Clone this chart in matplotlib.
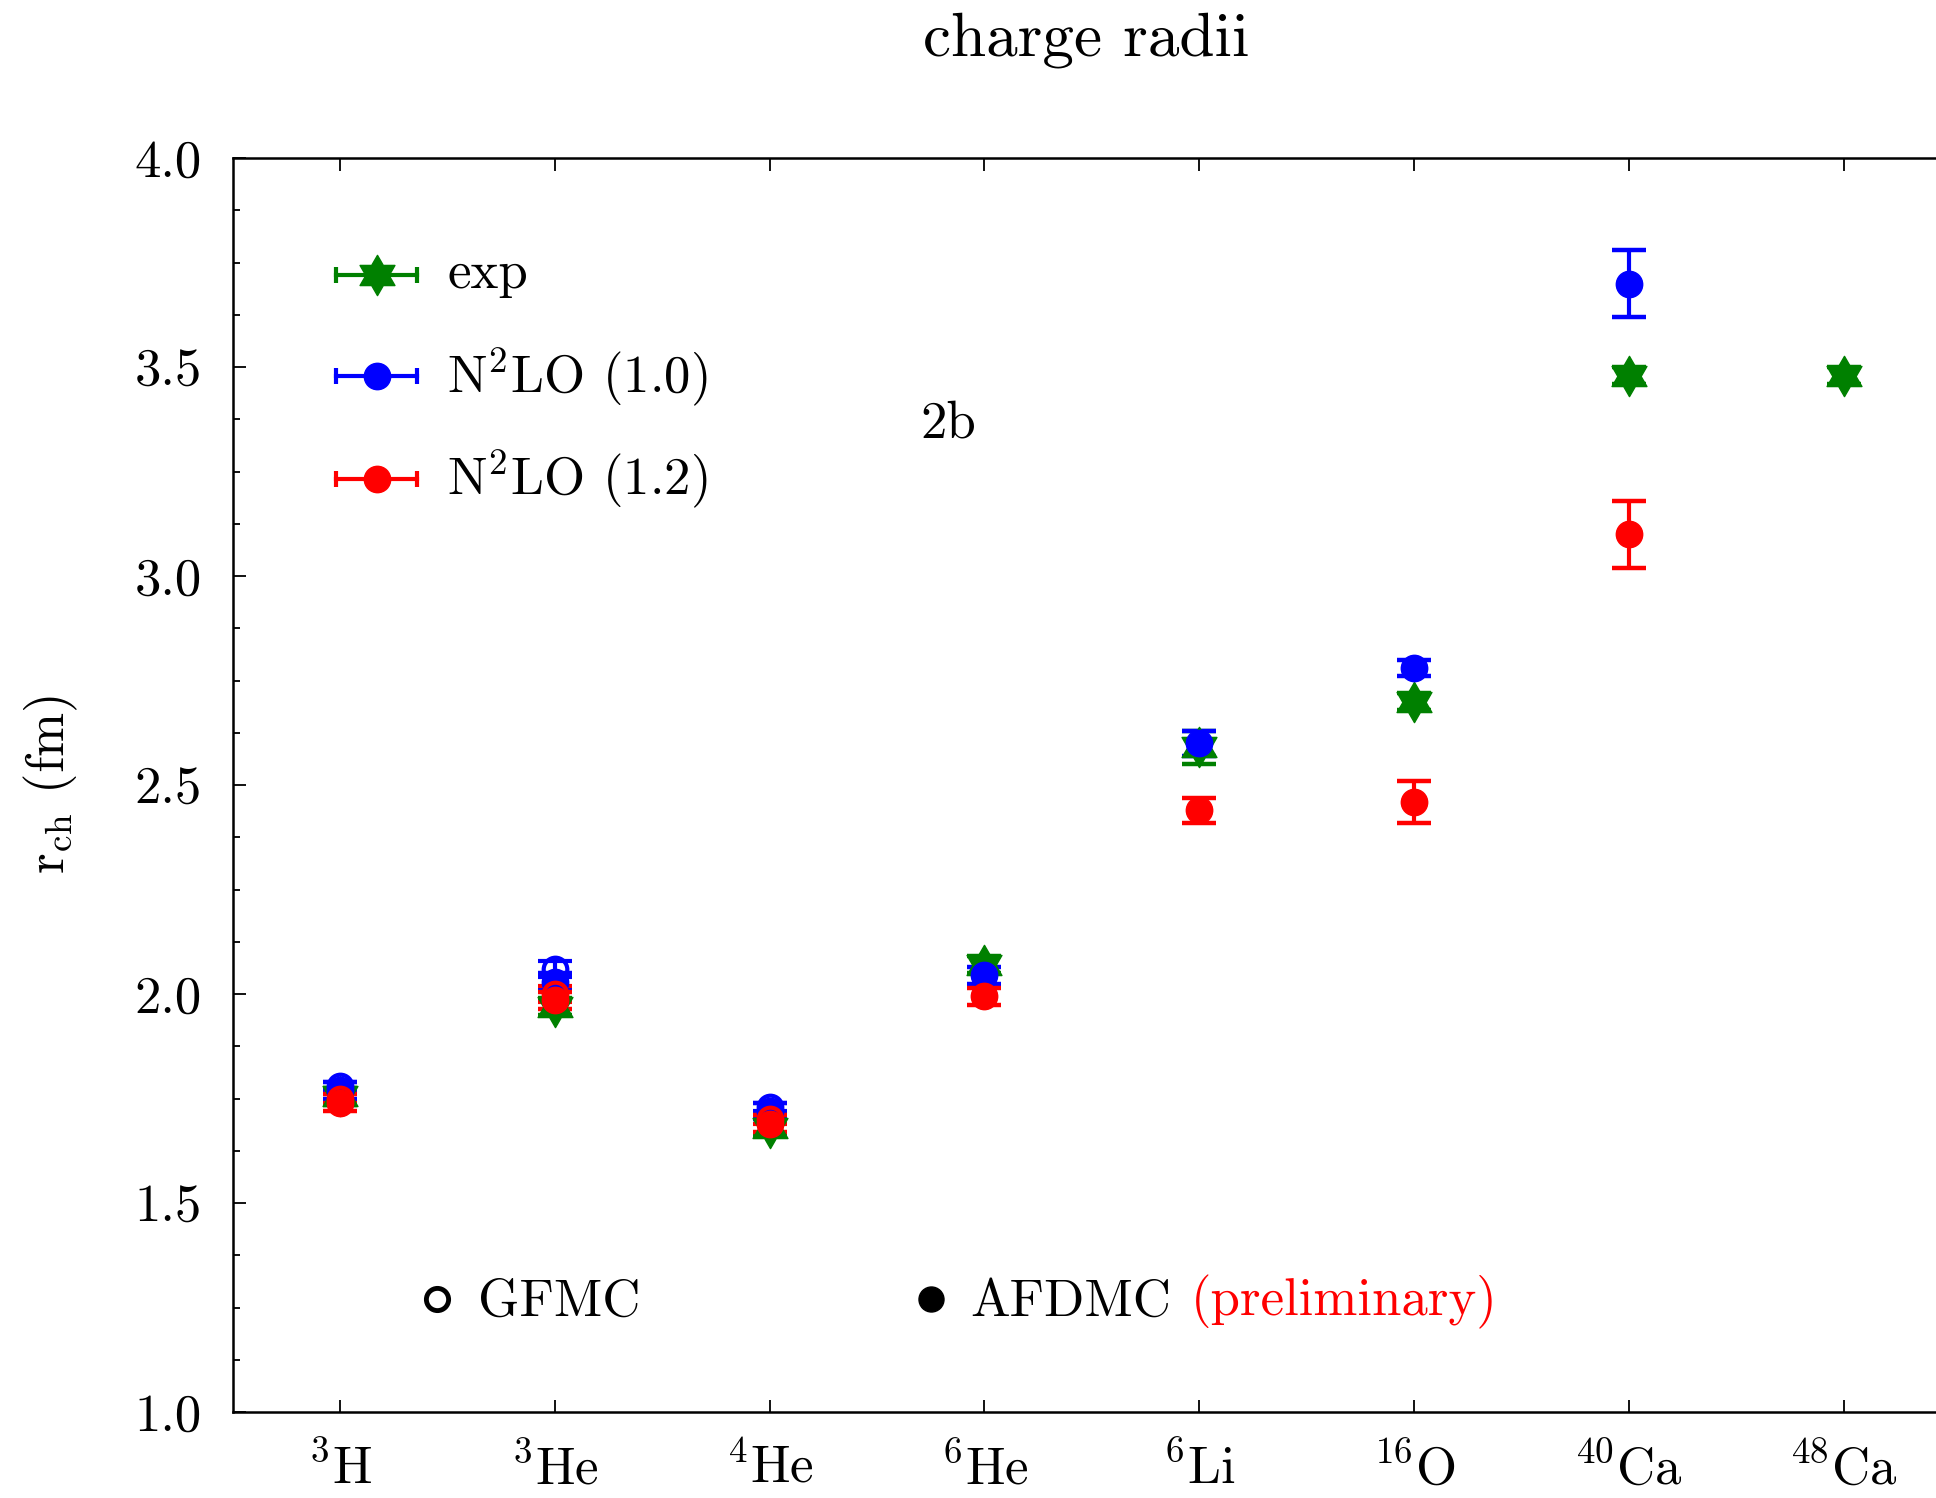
import matplotlib
matplotlib.use('Agg')
import matplotlib.pyplot as plt
from matplotlib.path import Path
from matplotlib.ticker import MultipleLocator

plt.rcParams['font.family'] = 'cmr10'
plt.rcParams['mathtext.fontset'] = 'cm'
plt.rcParams['axes.formatter.use_mathtext'] = True

# nuclei along the x axis
nuclei = [r'$^{3}$H', r'$^{3}$He', r'$^{4}$He', r'$^{6}$He',
          r'$^{6}$Li', r'$^{16}$O', r'$^{40}$Ca', r'$^{48}$Ca']
xpos = [1, 2, 3, 4, 5, 6, 7, 8]

# experimental charge radii (fm)
exp_r = [1.755, 1.97, 1.68, 2.07, 2.59, 2.70, 3.48, 3.48]
exp_err = [0.02, 0.02, 0.02, 0.02, 0.04, 0.02, 0.02, 0.02]

# GFMC (open symbols), light nuclei only
gfmc_x = [1, 2, 3]
gfmc_10 = [1.78, 2.06, 1.73]
gfmc_10_err = [0.01, 0.02, 0.01]
gfmc_12 = [1.75, 2.00, 1.70]
gfmc_12_err = [0.01, 0.02, 0.01]

# AFDMC (filled symbols)
afdmc_x = [1, 2, 3, 4, 5, 6, 7]
afdmc_10 = [1.77, 2.03, 1.72, 2.045, 2.60, 2.78, 3.70]
afdmc_10_err = [0.02, 0.02, 0.02, 0.02, 0.03, 0.02, 0.08]
afdmc_12 = [1.74, 1.985, 1.69, 1.995, 2.44, 2.46, 3.10]
afdmc_12_err = [0.02, 0.02, 0.02, 0.02, 0.03, 0.05, 0.08]

star = Path.unit_regular_star(6, innerCircle=0.577)

fig = plt.figure(figsize=(19.36, 14.98), dpi=100)
ax = fig.add_axes([0.1201, 0.0574, 0.8877, 0.837])

ebkw = dict(linestyle='none', elinewidth=3, capthick=3.2, capsize=12)

ax.errorbar(xpos, exp_r, yerr=exp_err, color='green', marker=star,
            ms=29, mec='green', mfc='green', **ebkw)
ax.errorbar(gfmc_x, gfmc_10, yerr=gfmc_10_err, color='blue', marker='o',
            ms=17, mfc='none', mec='blue', mew=3, **ebkw)
ax.errorbar(afdmc_x, afdmc_10, yerr=afdmc_10_err, color='blue', marker='o',
            ms=19, mfc='blue', mec='blue', **ebkw)
ax.errorbar(gfmc_x, gfmc_12, yerr=gfmc_12_err, color='red', marker='o',
            ms=17, mfc='none', mec='red', mew=3, **ebkw)
ax.errorbar(afdmc_x, afdmc_12, yerr=afdmc_12_err, color='red', marker='o',
            ms=19, mfc='red', mec='red', **ebkw)

ax.set_xlim(0.5, 8.5)
ax.set_ylim(1.0, 4.0)
ax.set_xticks(xpos)
ax.set_xticklabels(nuclei)
ax.yaxis.set_major_locator(MultipleLocator(0.5))
ax.yaxis.set_minor_locator(MultipleLocator(0.125))
ax.yaxis.set_major_formatter(plt.FormatStrFormatter('%.1f'))
ax.tick_params(which='both', direction='in', top=True, right=True, width=1.3)
ax.tick_params(which='major', length=9, labelsize=38)
ax.tick_params(axis='y', which='major', pad=22)
ax.tick_params(axis='x', which='major', pad=22)
ax.tick_params(which='minor', length=5)
for s in ax.spines.values():
    s.set_linewidth(1.8)

ax.set_ylabel(r'r$_{\rm ch}$ (fm)', fontsize=38)
ax.yaxis.set_label_coords(-0.089, 0.5)

fig.text(0.561, 0.973, 'charge radii', fontsize=45.5, ha='center', va='center')
ax.text(0.400, 0.788, '2b', fontsize=38, transform=ax.transAxes,
        ha='left', va='center')

# hand-made legend with horizontal error bars
legend_rows = [('exp', 'green', star, 29), (r'N$^{2}$LO (1.0)', 'blue', 'o', 19),
               (r'N$^{2}$LO (1.2)', 'red', 'o', 19)]
legend_y = [0.907, 0.826, 0.744]
for (lab, col, mk, size), yy in zip(legend_rows, legend_y):
    ax.plot([0.0602, 0.1074], [yy, yy], color=col, lw=3,
            transform=ax.transAxes, clip_on=False)
    ax.plot([0.0602, 0.1074], [yy, yy], color=col, ls='none', marker='|',
            ms=12, mew=3, transform=ax.transAxes)
    ax.plot([0.0841], [yy], color=col, marker=mk, ms=size, ls='none',
            transform=ax.transAxes)
    ax.text(0.1249, yy, lab, fontsize=38, transform=ax.transAxes,
            ha='left', va='center')

# method key at the bottom
key_y = 0.0875
ax.plot([0.119], [key_y + 0.003], marker='o', ms=16, mfc='none', mec='black',
        mew=3.5, transform=ax.transAxes)
ax.text(0.1429, key_y, 'GFMC', fontsize=38, transform=ax.transAxes,
        ha='left', va='center')
ax.plot([0.4065], [key_y + 0.003], marker='o', ms=18, color='black',
        transform=ax.transAxes)
ax.text(0.4292, key_y, 'AFDMC', fontsize=38, transform=ax.transAxes,
        ha='left', va='center')
ax.text(0.5578, key_y, '(preliminary)', fontsize=38, color='red',
        transform=ax.transAxes, ha='left', va='center')

fig.savefig('out.png', dpi=100)
